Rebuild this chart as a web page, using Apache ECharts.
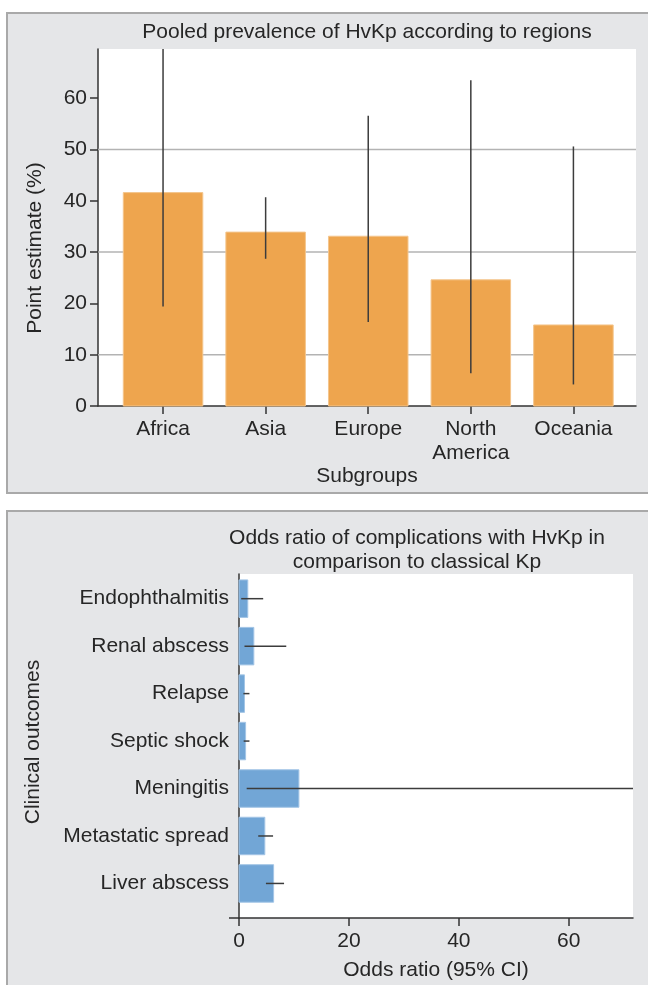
<!DOCTYPE html>
<html>
<head>
<meta charset="utf-8">
<style>
  html, body { margin: 0; padding: 0; background: #ffffff; }
  #chart { width: 648px; height: 985px; }
</style>
<script src="https://cdn.jsdelivr.net/npm/echarts@6/dist/echarts.min.js"></script>
</head>
<body>
<div id="chart"></div>
<script>
// Pooled prevalence of HvKp by region (point estimate and 95% CI, %)
const regions = ['Africa', 'Asia', 'Europe', 'North\nAmerica', 'Oceania'];
const prevalence = [41.6, 33.9, 33.1, 24.6, 15.8];
const prevalenceLow = [19.4, 28.7, 16.4, 6.4, 4.2];
const prevalenceHigh = [69.6, 40.7, 56.6, 63.5, 50.6];
const prevalenceTicks = [0, 10, 20, 30, 40, 50, 60];
const prevalenceGrid = [10, 30, 50];

// Odds ratio of complications with HvKp versus classical Kp (OR and 95% CI)
const outcomes = ['Endophthalmitis', 'Renal abscess', 'Relapse', 'Septic shock',
                  'Meningitis', 'Metastatic spread', 'Liver abscess'];
const oddsRatio = [1.6, 2.7, 1.0, 1.2, 10.9, 4.7, 6.3];
const oddsLow = [0.4, 1.0, 0.8, 0.85, 1.4, 3.5, 4.9];
const oddsHigh = [4.4, 8.6, 1.9, 1.9, 71.7, 6.2, 8.2];
const oddsTicks = [0, 20, 40, 60];

const FONT = '"Liberation Sans", Arial, sans-serif';
const TEXT = '#262626';
const AXIS = '#333333';
const ORANGE = '#eea54e';
const BLUE = '#72a6d6';

// category slots on numeric axes so the bands can be padded freely
const regionPos = regions.map((_, i) => i + 1);
const outcomePos = outcomes.map((_, i) => i);
const X1_MIN = 0.366, X1_MAX = 5.61;
const Y2_MIN = -0.52, Y2_MAX = 6.728;

const chart = echarts.init(document.getElementById('chart'));

const axisLine = { show: true, onZero: false, lineStyle: { color: AXIS, width: 1.5 } };
const labelStyle = { color: TEXT, fontSize: 21, fontFamily: FONT };

const option = {
  animation: false,
  backgroundColor: '#ffffff',
  grid: [
    { left: 98, top: 49, width: 538, height: 357, show: true, backgroundColor: '#ffffff', borderWidth: 0 },
    { left: 239, top: 574, width: 394, height: 344, show: true, backgroundColor: '#ffffff', borderWidth: 0 }
  ],
  xAxis: [
    {
      gridIndex: 0, type: 'value', min: X1_MIN, max: X1_MAX,
      axisLine: axisLine,
      axisTick: { show: true, length: 8, lineStyle: { color: AXIS, width: 1.5 }, customValues: regionPos },
      axisLabel: Object.assign({ margin: 11, lineHeight: 24, customValues: regionPos,
        formatter: v => regions[Math.round(v) - 1] }, labelStyle),
      splitLine: { show: false }
    },
    {
      gridIndex: 1, type: 'value', min: 0, max: oddsHigh[4],
      axisLine: axisLine,
      axisTick: { show: true, length: 8, lineStyle: { color: AXIS, width: 1.5 }, customValues: oddsTicks },
      axisLabel: Object.assign({ margin: 13, customValues: oddsTicks }, labelStyle),
      splitLine: { show: false }
    }
  ],
  yAxis: [
    {
      gridIndex: 0, type: 'value', min: 0, max: prevalenceHigh[0],
      axisLine: axisLine,
      axisTick: { show: true, length: 8, lineStyle: { color: AXIS, width: 1.5 }, customValues: prevalenceTicks },
      axisLabel: Object.assign({ margin: 11, customValues: prevalenceTicks }, labelStyle),
      splitLine: { show: false }
    },
    {
      gridIndex: 1, type: 'value', inverse: true, min: Y2_MIN, max: Y2_MAX,
      axisLine: axisLine,
      axisTick: { show: true, length: 10, lineStyle: { color: AXIS, width: 1.5 }, customValues: [Y2_MAX] },
      axisLabel: Object.assign({ margin: 10, customValues: outcomePos,
        formatter: v => outcomes[Math.round(v)] }, labelStyle),
      splitLine: { show: false }
    }
  ],
  graphic: [
    { type: 'rect', z: -10, shape: { x: 7, y: 13, width: 700, height: 480 },
      style: { fill: '#e5e6e8', stroke: '#a9a9a9', lineWidth: 2 } },
    { type: 'rect', z: -10, shape: { x: 7, y: 511, width: 700, height: 500 },
      style: { fill: '#e5e6e8', stroke: '#a9a9a9', lineWidth: 2 } },
    { type: 'text', z: 10, x: 367, y: 32,
      style: { text: 'Pooled prevalence of HvKp according to regions', fill: TEXT,
        font: '21px ' + FONT, textAlign: 'center', textVerticalAlign: 'middle' } },
    { type: 'text', z: 10, x: 35, y: 248, rotation: Math.PI / 2,
      style: { text: 'Point estimate (%)', fill: TEXT,
        font: '21px ' + FONT, textAlign: 'center', textVerticalAlign: 'middle' } },
    { type: 'text', z: 10, x: 367, y: 476,
      style: { text: 'Subgroups', fill: TEXT,
        font: '21px ' + FONT, textAlign: 'center', textVerticalAlign: 'middle' } },
    { type: 'text', z: 10, x: 417, y: 550,
      style: { text: 'Odds ratio of complications with HvKp in\ncomparison to classical Kp', fill: TEXT,
        font: '21px ' + FONT, lineHeight: 24, textAlign: 'center', textVerticalAlign: 'middle' } },
    { type: 'text', z: 10, x: 33, y: 742, rotation: Math.PI / 2,
      style: { text: 'Clinical outcomes', fill: TEXT,
        font: '21px ' + FONT, textAlign: 'center', textVerticalAlign: 'middle' } },
    { type: 'text', z: 10, x: 436, y: 970,
      style: { text: 'Odds ratio (95% CI)', fill: TEXT,
        font: '21px ' + FONT, textAlign: 'center', textVerticalAlign: 'middle' } }
  ],
  series: [
    // selected horizontal reference lines of the prevalence panel
    {
      type: 'custom', xAxisIndex: 0, yAxisIndex: 0, z: 1, silent: true,
      data: prevalenceGrid.map(v => [v]),
      encode: { y: 0 },
      renderItem: (params, api) => {
        const a = api.coord([X1_MIN, api.value(0)]);
        const b = api.coord([X1_MAX, api.value(0)]);
        return { type: 'line', shape: { x1: a[0], y1: a[1], x2: b[0], y2: b[1] },
          style: { stroke: '#b3b3b3', lineWidth: 1.5 } };
      }
    },
    // prevalence bars
    {
      type: 'custom', xAxisIndex: 0, yAxisIndex: 0, z: 2,
      data: regionPos.map((p, i) => [p, prevalence[i]]),
      encode: { x: 0, y: 1 },
      renderItem: (params, api) => {
        const p = api.value(0);
        const half = 0.3875;
        const tl = api.coord([p - half, api.value(1)]);
        const br = api.coord([p + half, 0]);
        return { type: 'rect', shape: { x: tl[0], y: tl[1], width: br[0] - tl[0], height: br[1] - tl[1] },
          style: { fill: ORANGE, stroke: '#f4c58c', lineWidth: 1 } };
      }
    },
    // prevalence confidence intervals
    {
      type: 'custom', xAxisIndex: 0, yAxisIndex: 0, z: 3,
      data: regionPos.map((p, i) => [p, prevalenceLow[i], prevalenceHigh[i]]),
      encode: { x: 0, y: [1, 2] },
      renderItem: (params, api) => {
        const a = api.coord([api.value(0), api.value(1)]);
        const b = api.coord([api.value(0), api.value(2)]);
        return { type: 'line', shape: { x1: a[0], y1: a[1], x2: b[0], y2: b[1] },
          style: { stroke: '#3c3c3c', lineWidth: 1.5 } };
      }
    },
    // odds ratio bars
    {
      type: 'custom', xAxisIndex: 1, yAxisIndex: 1, z: 2,
      data: outcomePos.map((p, i) => [oddsRatio[i], p]),
      encode: { x: 0, y: 1 },
      renderItem: (params, api) => {
        const p = api.value(1);
        const half = 0.395;
        const a = api.coord([0, p - half]);
        const b = api.coord([api.value(0), p + half]);
        return { type: 'rect', shape: { x: a[0], y: a[1], width: b[0] - a[0], height: b[1] - a[1] },
          style: { fill: BLUE, stroke: '#a3c5e6', lineWidth: 1 } };
      }
    },
    // odds ratio confidence intervals
    {
      type: 'custom', xAxisIndex: 1, yAxisIndex: 1, z: 3,
      data: outcomePos.map((p, i) => [oddsLow[i], oddsHigh[i], p]),
      encode: { x: [0, 1], y: 2 },
      renderItem: (params, api) => {
        const a = api.coord([api.value(0), api.value(2)]);
        const b = api.coord([api.value(1), api.value(2)]);
        return { type: 'line', shape: { x1: a[0], y1: a[1], x2: b[0], y2: b[1] },
          style: { stroke: '#3c3c3c', lineWidth: 1.5 } };
      }
    }
  ]
};

chart.setOption(option);
</script>
</body>
</html>
